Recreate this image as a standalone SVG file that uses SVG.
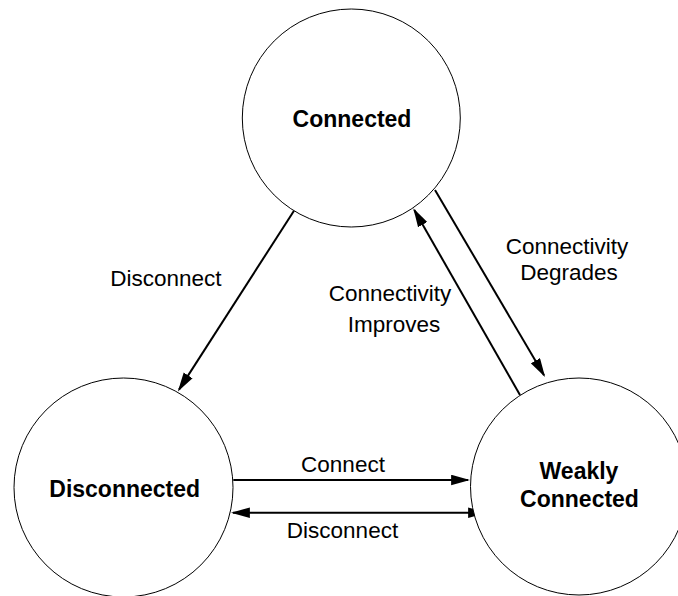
<svg xmlns="http://www.w3.org/2000/svg" width="678" height="596" viewBox="0 0 678 596">
  <style>
    .node { fill: #ffffff; stroke: #000000; stroke-width: 1; }
    .edge { fill: none; stroke: #000000; stroke-width: 2; }
    .title { font-family: "Liberation Sans", Arial, sans-serif; font-size: 23px; font-weight: bold; fill: #000000; text-anchor: middle; }
    .lbl { font-family: "Liberation Sans", Arial, sans-serif; font-size: 22.5px; fill: #000000; text-anchor: middle; }
  </style>
  <defs>
    <marker id="arrow" markerUnits="userSpaceOnUse" markerWidth="19" markerHeight="11" viewBox="0 0 18 10" refX="16" refY="5" orient="auto-start-reverse">
      <path d="M0,0 L18,5 L0,10 Z" fill="#000000"/>
    </marker>
  </defs>
  <rect width="678" height="596" fill="#ffffff"/>
  <g id="connectors">
    <line class="edge" x1="294" y1="210.7" x2="179" y2="389.6" marker-end="url(#arrow)"/>
    <line class="edge" x1="435" y1="190" x2="544" y2="375.3" marker-end="url(#arrow)"/>
    <line class="edge" x1="520" y1="395" x2="414.3" y2="210" marker-end="url(#arrow)"/>
    <line class="edge" x1="233.3" y1="480" x2="468" y2="480" marker-end="url(#arrow)"/>
    <line class="edge" x1="233" y1="512.7" x2="485" y2="512.7" marker-start="url(#arrow)" marker-end="url(#arrow)"/>
    <text class="lbl" x="165.8" y="286">Disconnect</text>
    <text class="lbl" x="567" y="254.3">Connectivity</text>
    <text class="lbl" x="569" y="280">Degrades</text>
    <text class="lbl" x="390" y="301">Connectivity</text>
    <text class="lbl" x="394" y="332">Improves</text>
    <text class="lbl" x="343" y="471.7">Connect</text>
    <text class="lbl" x="342.5" y="538.3">Disconnect</text>
  </g>
  <g id="connected">
    <circle class="node" cx="351.3" cy="118" r="109"/>
    <text class="title" x="352" y="127.3">Connected</text>
  </g>
  <g id="disconnected">
    <circle class="node" cx="123.5" cy="487.5" r="109.5"/>
    <text class="title" x="124.7" y="496.7">Disconnected</text>
  </g>
  <g id="weakly-connected">
    <circle class="node" cx="579" cy="486.5" r="108.5"/>
    <text class="title" x="579" y="479">Weakly</text>
    <text class="title" x="579.5" y="506.7">Connected</text>
  </g>
</svg>
